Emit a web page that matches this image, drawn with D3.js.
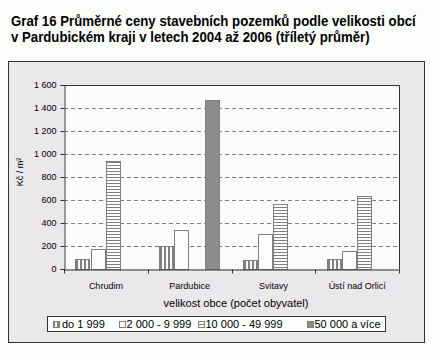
<!DOCTYPE html>
<html>
<head>
<meta charset="utf-8">
<script src="https://cdn.jsdelivr.net/npm/d3@7"></script>
<style>
  html, body { margin: 0; padding: 0; background: #fcfefc; }
  svg { display: block; }
  text { font-family: "Liberation Sans", Arial, sans-serif; }
</style>
</head>
<body>
<script>
// ---- data ----
const categories = ["Chrudim", "Pardubice", "Svitavy", "Ústí nad Orlicí"];
const seriesNames = ["do 1 999", "2 000 - 9 999", "10 000 - 49 999", "50 000 a více"];
const valuesDo1999 = [87, 197, 81, 87];
const values2000 = [171, 336, 304, 157];
const values10000 = [937, null, 565, 635];
const values50000 = [null, 1467, null, null];
const yTicks = [0, 200, 400, 600, 800, 1000, 1200, 1400, 1600];
const titleLines = [
  "Graf 16 Průměrné ceny stavebních pozemků podle velikosti obcí",
  "v Pardubickém kraji v letech 2004 až 2006 (tříletý průměr)"
];
const yTitle = "Kč / m²";
const xTitle = "velikost obce (počet obyvatel)";

const seriesValues = [valuesDo1999, values2000, values10000, values50000];
const fills = ["url(#pVert)", "#fcfefc", "url(#pHorz)", "#8c8e8c"];

const W = 437, H = 360;
const svg = d3.select("body").append("svg").attr("width", W).attr("height", H);

// patterns
const defs = svg.append("defs");
const pv = defs.append("pattern").attr("id", "pVert").attr("patternUnits", "userSpaceOnUse")
  .attr("width", 4).attr("height", 4);
pv.append("rect").attr("width", 4).attr("height", 4).attr("fill", "#fcfefc");
pv.append("rect").attr("width", 2).attr("height", 4).attr("fill", "#808080");
const ph = defs.append("pattern").attr("id", "pHorz").attr("patternUnits", "userSpaceOnUse")
  .attr("width", 4).attr("height", 3);
ph.append("rect").attr("width", 4).attr("height", 3).attr("fill", "#fcfefc");
ph.append("rect").attr("width", 4).attr("height", 1).attr("fill", "#808080");

// title (scaled horizontally to match the condensed original)
const titleTargets = [405, 359];
titleLines.forEach((t, i) => {
  const g = svg.append("g");
  const txt = g.append("text").attr("x", 0).attr("y", 0)
    .attr("font-size", 14).attr("font-weight", "bold").attr("fill", "#000").text(t);
  const w = txt.node().getComputedTextLength();
  const s = titleTargets[i] / w;
  g.attr("transform", `translate(11,${26 + i * 15.5}) scale(${s},1)`);
});

// outer chart box
svg.append("rect").attr("x", 8.5).attr("y", 61.5).attr("width", 416).attr("height", 281)
  .attr("fill", "#ebe8eb").attr("stroke", "#333").attr("stroke-width", 1);

const plot = { left: 64, right: 399, top: 85, bottom: 269 };

// plot area
svg.append("rect").attr("x", plot.left).attr("y", plot.top)
  .attr("width", plot.right - plot.left).attr("height", plot.bottom - plot.top)
  .attr("fill", "#fbfdfb");

const x0 = d3.scaleBand().domain(categories).range([plot.left, plot.right]).padding(0);
const x1 = d3.scaleBand().domain(d3.range(seriesNames.length)).range([0, x0.bandwidth()])
  .paddingInner(0).paddingOuter(0.74);
const y = d3.scaleLinear().domain([0, 1600]).range([plot.bottom, plot.top]);

// gridlines
svg.append("g").selectAll("line").data(yTicks.filter(t => t > 0 && t < 1600)).enter().append("line")
  .attr("x1", plot.left).attr("x2", plot.right)
  .attr("y1", d => Math.round(y(d)) + 0.5).attr("y2", d => Math.round(y(d)) + 0.5)
  .attr("stroke", "#808080").attr("stroke-width", 1).attr("stroke-dasharray", "4,3");

// plot border top/right
svg.append("path")
  .attr("d", `M${plot.left},${plot.top + 0.5}H${plot.right + 0.5}V${plot.bottom}`)
  .attr("fill", "none").attr("stroke", "#333").attr("stroke-width", 1);

// bars
const barData = [];
categories.forEach((c, ci) => {
  seriesValues.forEach((arr, si) => {
    if (arr[ci] != null) barData.push({ c, si, v: arr[ci] });
  });
});
svg.append("g").selectAll("rect").data(barData).enter().append("rect")
  .attr("x", d => Math.round(x0(d.c) + x1(d.si)) + 0.5)
  .attr("y", d => Math.round(y(d.v)) + 0.5)
  .attr("width", d => Math.round(x1.bandwidth()) - 1)
  .attr("height", d => Math.round(y(0)) - Math.round(y(d.v)))
  .attr("fill", d => fills[d.si])
  .attr("stroke", "#808080").attr("stroke-width", 1);

// y axis
const yAxis = d3.axisLeft(y).tickValues(yTicks).tickSize(4).tickPadding(4)
  .tickFormat(d => d3.format(",")(d).replace(/,/g, " "));
const gy = svg.append("g").attr("transform", `translate(${plot.left + 0.5},0)`).call(yAxis);
gy.select(".domain").attr("stroke", "#333");
gy.selectAll(".tick line").attr("stroke", "#333");
gy.selectAll(".tick text").attr("font-size", 9).attr("fill", "#000")
  .attr("font-family", "\"Liberation Sans\", Arial, sans-serif");

// x axis
const xAxis = d3.axisBottom(x0).tickSize(0).tickPadding(13);
const gx = svg.append("g").attr("transform", `translate(0,${plot.bottom + 0.5})`).call(xAxis);
gx.select(".domain").attr("stroke", "#333");
gx.selectAll(".tick text").attr("font-size", 9).attr("fill", "#000")
  .attr("font-family", "\"Liberation Sans\", Arial, sans-serif");
// boundary ticks
const bounds = categories.map(c => x0(c)).concat([plot.right]);
gx.selectAll("line.bt").data(bounds).enter().append("line").attr("class", "bt")
  .attr("x1", d => Math.round(d) + 0.5).attr("x2", d => Math.round(d) + 0.5)
  .attr("y1", 0).attr("y2", 4).attr("stroke", "#333");

// y title
svg.append("text").attr("transform", "translate(23,172) rotate(-90)")
  .attr("text-anchor", "middle").attr("font-size", 9).attr("fill", "#000").text(yTitle);

// x title
svg.append("text").attr("x", 236).attr("y", 307).attr("text-anchor", "middle")
  .attr("font-size", 11).attr("fill", "#000").text(xTitle);

// legend
svg.append("rect").attr("x", 47.5).attr("y", 316.5).attr("width", 338).attr("height", 15)
  .attr("fill", "#fcfefc").attr("stroke", "#333");
const legX = [53, 119, 198, 307];
const lg = svg.append("g").selectAll("g").data(seriesNames).enter().append("g")
  .attr("transform", (d, i) => `translate(${legX[i]},0)`);
lg.append("rect").attr("x", 0.5).attr("y", 321.5).attr("width", 6).attr("height", 6)
  .attr("fill", (d, i) => fills[i]).attr("stroke", "#808080");
lg.append("text").attr("x", (d, i) => i === 0 ? 9 : 7.5).attr("y", 328)
  .attr("font-size", 11).attr("fill", "#000").text(d => d);
</script>
</body>
</html>
